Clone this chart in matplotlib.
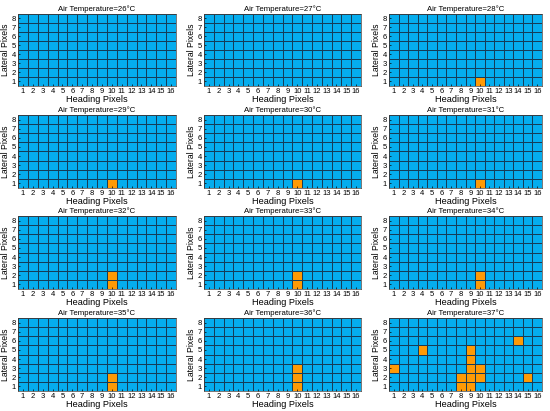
import numpy as np
import matplotlib
matplotlib.use("Agg")
import matplotlib.pyplot as plt
from matplotlib.colors import ListedColormap

plt.rcParams['font.family'] = ['Liberation Sans', 'DejaVu Sans']

temperatures = [26, 27, 28, 29, 30, 31, 32, 33, 34, 35, 36, 37]
heading_pixels = list(range(1, 17))
lateral_pixels = list(range(1, 9))

# (heading, lateral) of hot (orange) pixels per panel
hot_cells = {
    26: [],
    27: [],
    28: [(10, 1)],
    29: [(10, 1)],
    30: [(10, 1)],
    31: [(10, 1)],
    32: [(10, 1), (10, 2)],
    33: [(10, 1), (10, 2)],
    34: [(10, 1), (10, 2)],
    35: [(10, 1), (10, 2)],
    36: [(10, 1), (10, 2), (10, 3)],
    37: [(1, 3), (4, 5), (8, 1), (8, 2), (9, 1), (9, 2), (9, 3), (9, 4), (9, 5),
         (10, 2), (10, 3), (14, 6), (15, 2)],
}

blue = '#05ADEE'
orange = '#FF9A05'
cmap = ListedColormap([blue, orange])

W, H = 550, 411
fig = plt.figure(figsize=(W / 100, H / 100), dpi=100)

col_px = [(18, 176), (204, 361), (389, 542)]
row_px = [(14, 86), (115, 188), (216, 289), (318, 391)]

xe = np.arange(0.5, len(heading_pixels) + 1, 1)
ye = np.arange(0.5, len(lateral_pixels) + 1, 1)

for i, t in enumerate(temperatures):
    r, c = divmod(i, 3)
    x0, x1 = col_px[c]
    y0, y1 = row_px[r]
    ax = fig.add_axes([x0 / W, 1 - y1 / H, (x1 - x0) / W, (y1 - y0) / H])
    grid = np.zeros((len(lateral_pixels), len(heading_pixels)))
    for (h, l) in hot_cells[t]:
        grid[l - 1, h - 1] = 1
    ax.pcolormesh(xe, ye, grid, cmap=cmap, vmin=0, vmax=1,
                  edgecolors='#163d58', linewidth=0.45)
    ax.set_xlim(0.5, 16.5)
    ax.set_ylim(0.5, 8.5)
    ax.set_xticks(heading_pixels)
    ax.set_yticks(lateral_pixels)
    ax.tick_params(axis='both', labelsize=5.5, length=1.5, width=0.5,
                   direction='in', pad=1.5)
    ax.set_xlabel('Heading Pixels', fontsize=6.6, labelpad=0)
    ax.set_ylabel('Lateral Pixels', fontsize=6.2, labelpad=1.5)
    ax.set_title(f'Air Temperature={t}°C', fontsize=5.6, pad=2)
    for s in ax.spines.values():
        s.set_linewidth(0.5)
        s.set_color('#404040')

fig.savefig('out.png', dpi=100, facecolor='white')
